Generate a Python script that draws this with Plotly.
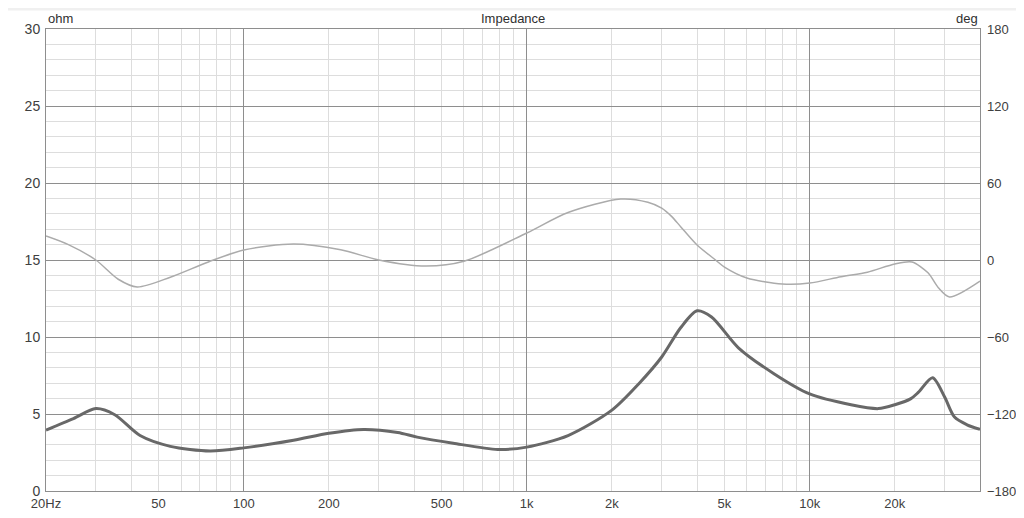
import plotly.graph_objects as go

# impedance magnitude (ohm)
imp_freq = [20, 25, 30, 35, 43, 55, 76, 100, 150, 200, 265, 350, 410, 550, 790,
            1000, 1400, 2000, 2500, 3000, 3500, 4000, 4500, 5600, 7500, 10000,
            14000, 17500, 20000, 22800, 24200, 27200, 30000, 32500, 36000, 40000]
imp_ohm = [3.96, 4.7, 5.35, 4.95, 3.6, 2.9, 2.6, 2.8, 3.3, 3.75, 4.0, 3.8, 3.5,
           3.1, 2.7, 2.85, 3.6, 5.25, 7.0, 8.7, 10.6, 11.7, 11.3, 9.3, 7.6, 6.3,
           5.6, 5.35, 5.6, 6.0, 6.4, 7.35, 6.1, 4.8, 4.3, 4.0]

# phase (deg)
ph_freq = [20, 24, 30, 36, 42, 55, 75, 100, 150, 220, 300, 440, 600, 1000,
           1400, 2150, 2680, 3000, 3250, 3500, 4000, 4650, 5000, 6000, 8000,
           10000, 12900, 16000, 20000, 23000, 26200, 28500, 31200, 40000]
ph_deg = [18.7, 12, 0, -15, -21, -13.4, -1.5, 7.8, 12.5, 8, 0, -4.7, -1, 21,
          37, 47.5, 45, 40.4, 34, 26, 11.7, 0, -5.5, -14, -18.7,
          -18, -13, -9.5, -3.1, -1.6, -10, -21.6, -28.8, -16.4]

x_tickvals = [20, 50, 100, 200, 500, 1000, 2000, 5000, 10000, 20000]
x_ticktext = ["20Hz", "50", "100", "200", "500", "1k", "2k", "5k", "10k", "20k"]
decades = [100, 1000, 10000]

FONT = "Liberation Sans, Arial, sans-serif"
MAJOR = "#8e8e8e"
MINOR = "#dddddd"

minor_x = [m * d for d in (10, 100, 1000, 10000) for m in range(2, 10)
           if 20 <= m * d <= 40000]

fig = go.Figure()
fig.add_trace(go.Scatter(x=imp_freq, y=imp_ohm, mode="lines", name="Impedance",
                         line=dict(color="#686868", width=3, shape="spline",
                                   smoothing=0.8),
                         xaxis="x", yaxis="y"))
fig.add_trace(go.Scatter(x=ph_freq, y=ph_deg, mode="lines", name="Phase",
                         line=dict(color="#ababab", width=1.5, shape="spline",
                                   smoothing=0.8),
                         xaxis="x2", yaxis="y2"))

# the page body adds 8px around the figure, so the figure is 16px smaller
xr = [1.30103, 4.60206]
fig.update_layout(
    width=1008, height=502,
    margin=dict(l=38, r=36, t=21, b=19),
    paper_bgcolor="white",
    plot_bgcolor="white",
    showlegend=False,
    font=dict(family=FONT, size=14, color="#404040"),
    xaxis=dict(type="log", range=xr, tickvals=x_tickvals, ticktext=x_ticktext,
               showgrid=False, zeroline=False, ticks="", automargin=False,
               ticklabelstandoff=0, tickfont=dict(size=13),
               showline=True, linecolor=MAJOR, mirror=True,
               minor=dict(tickvals=minor_x, showgrid=True, gridcolor=MINOR,
                          gridwidth=1, ticks="")),
    xaxis2=dict(type="log", range=xr, overlaying="x", tickvals=decades,
                showticklabels=False, showgrid=True, gridcolor=MAJOR,
                gridwidth=1, ticks="", zeroline=False, automargin=False),
    yaxis=dict(range=[0, 30], dtick=5, showgrid=True, gridcolor=MAJOR,
               zeroline=False, ticks="", ticklabelstandoff=2, automargin=False,
               showline=True, linecolor=MAJOR, mirror=True,
               minor=dict(dtick=1, showgrid=True, gridcolor=MINOR, ticks="")),
    yaxis2=dict(range=[-180, 180], dtick=60, overlaying="y", side="right",
                showgrid=False, zeroline=False, ticks="", automargin=False,
                ticklabelstandoff=6, tickfont=dict(size=13)),
    shapes=[dict(type="rect", xref="paper", yref="paper",
                 x0=-0.05, x1=1.05, y0=1.04, y1=1.06,
                 fillcolor="#f0f0f0", line=dict(width=0), layer="below")],
    annotations=[
        dict(text="Impedance", xref="paper", yref="paper", x=0.5, y=1.0,
             xanchor="center", yanchor="bottom", showarrow=False,
             font=dict(size=13, color="#303030"), yshift=1),
        dict(text="ohm", xref="paper", yref="paper", x=0.0, y=1.0,
             xanchor="left", yanchor="bottom", showarrow=False,
             font=dict(size=13, color="#303030"), yshift=1),
        dict(text="deg", xref="paper", yref="paper", x=1.0, y=1.0,
             xanchor="right", yanchor="bottom", showarrow=False,
             font=dict(size=13, color="#303030"), yshift=1),
    ],
)

fig.write_html("out.html")
